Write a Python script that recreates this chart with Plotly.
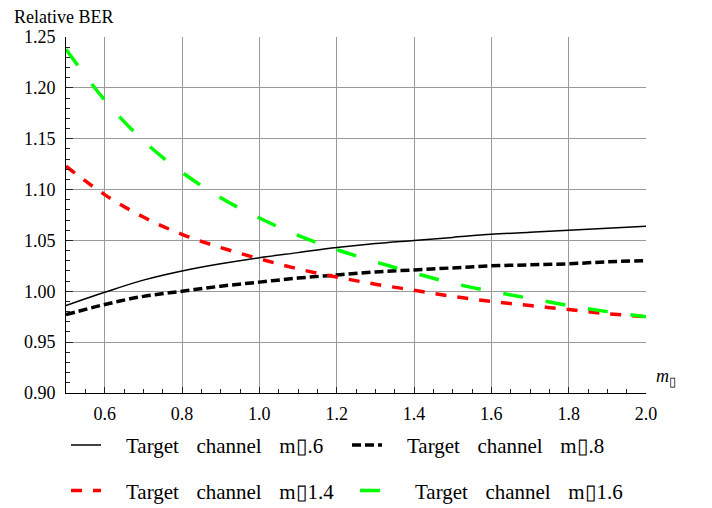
import plotly.graph_objects as go

# Shape parameter of the interfering channel (x axis)
m_values = [0.5, 0.6, 0.7, 0.8, 0.9, 1.0, 1.1, 1.2, 1.3, 1.4, 1.5, 1.6, 1.7, 1.8, 1.9, 2.0]

# Relative BER for each target-channel parameter
ber_m06 = [0.986, 0.999, 1.011, 1.020, 1.027, 1.033, 1.038, 1.043, 1.047, 1.050,
           1.053, 1.056, 1.058, 1.060, 1.062, 1.064]
ber_m08 = [0.977, 0.987, 0.995, 1.000, 1.005, 1.009, 1.013, 1.016, 1.019, 1.021,
           1.023, 1.025, 1.026, 1.027, 1.029, 1.030]
ber_m14 = [1.123, 1.095, 1.073, 1.056, 1.043, 1.032, 1.022, 1.014, 1.007, 1.001,
           0.995, 0.990, 0.986, 0.982, 0.978, 0.975]
ber_m16 = [1.238, 1.188, 1.148, 1.117, 1.092, 1.072, 1.055, 1.041, 1.029, 1.018,
           1.008, 1.000, 0.993, 0.986, 0.980, 0.975]

param_labels = ["m\u25af.6", "m\u25af.8", "m\u25af1.4", "m\u25af1.6"]

SERIF = "Liberation Serif"
NB = "\u00a0"
LEAD = NB * 3 + "\u2009"
GAP = NB * 3 + "\u200a"


def legend_name(param):
    return LEAD + "Target" + GAP + "channel" + GAP + param


fig = go.Figure()

styles = [
    (ber_m06, dict(color="black", width=1.5, dash="solid"), "legend"),
    (ber_m08, dict(color="black", width=3.5, dash="9px,4px"), "legend"),
    (ber_m14, dict(color="#ff0000", width=3.5, dash="11px,11px"), "legend2"),
    (ber_m16, dict(color="#00ff00", width=3.5, dash="20px,23px"), "legend2"),
]

for (yvals, line, leg), label in zip(styles, param_labels):
    fig.add_trace(go.Scatter(
        x=m_values, y=yvals, mode="lines",
        line=dict(shape="spline", smoothing=1.0, **line),
        name=legend_name(label), legend=leg,
    ))

fig.update_layout(
    width=712, height=508,
    margin=dict(l=66, r=66, t=37, b=115, autoexpand=False),
    paper_bgcolor="white", plot_bgcolor="white",
    font=dict(family=SERIF, size=18, color="black"),
    legend=dict(
        orientation="h", x=0.0, xanchor="left", y=-0.147, yanchor="middle",
        entrywidth=236, entrywidthmode="pixels",
        font=dict(family=SERIF, size=21, color="black"),
        bgcolor="rgba(0,0,0,0)",
    ),
    legend2=dict(
        orientation="h", x=0.0, xanchor="left", y=-0.275, yanchor="middle",
        entrywidth=244, entrywidthmode="pixels",
        font=dict(family=SERIF, size=21, color="black"),
        bgcolor="rgba(0,0,0,0)",
    ),
    showlegend=True,
)

fig.update_xaxes(
    range=[0.5, 2.0], tick0=0.6, dtick=0.2, tickformat=".1f",
    showline=True, linecolor="black", linewidth=1,
    showgrid=True, gridcolor="#9a9a9a", gridwidth=1, zeroline=False,
    ticks="inside", ticklen=6, tickcolor="#222222", tickwidth=1,
    ticklabelstandoff=4,
    minor=dict(dtick=0.05, ticks="inside", ticklen=4, tickcolor="#222222", showgrid=False),
    tickfont=dict(family=SERIF, size=18, color="black"),
)
fig.update_yaxes(
    range=[0.90, 1.25], tick0=0.90, dtick=0.05, tickformat=".2f",
    showline=True, linecolor="black", linewidth=1,
    showgrid=True, gridcolor="#9a9a9a", gridwidth=1, zeroline=False,
    ticks="inside", ticklen=7, tickcolor="#222222", tickwidth=1,
    ticklabelstandoff=6,
    minor=dict(dtick=0.01, ticks="inside", ticklen=4, tickcolor="#222222", showgrid=False),
    tickfont=dict(family=SERIF, size=18, color="black"),
)

# Axis captions
fig.add_annotation(
    text="Relative BER", xref="paper", yref="paper", x=0, y=1,
    xanchor="left", yanchor="bottom", xshift=-54, yshift=8, showarrow=False,
    font=dict(family=SERIF, size=18, color="black"),
)
fig.add_annotation(
    text="<i>m</i><sub>\u25af</sub>", xref="paper", yref="paper", x=1, y=0,
    xanchor="left", yanchor="bottom", xshift=8, yshift=2, showarrow=False,
    font=dict(family=SERIF, size=18, color="black"),
)

fig.write_html("out.html")
